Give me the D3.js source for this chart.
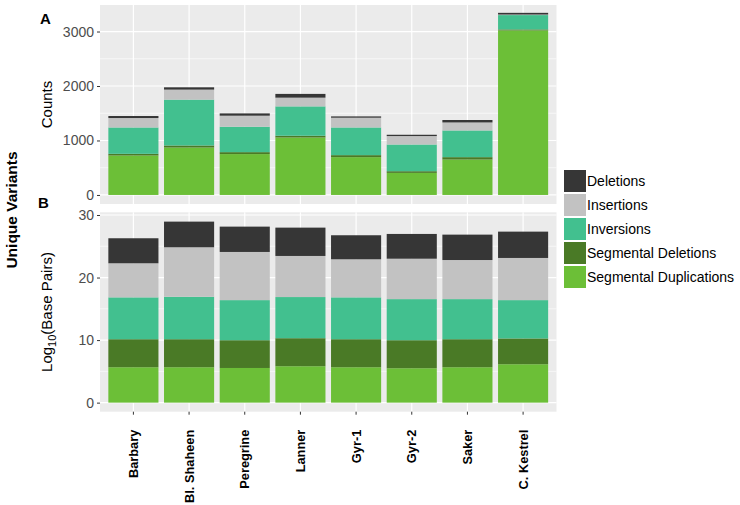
<!DOCTYPE html>
<html><head><meta charset="utf-8">
<script src="https://cdn.jsdelivr.net/npm/d3@7"></script>
<style>body{margin:0;background:#fff}text{font-family:"Liberation Sans",Arial,sans-serif}</style>
</head><body><svg id="c" width="740" height="505"></svg>
<script>
const categories = ["Barbary","Bl. Shaheen","Peregrine","Lanner","Gyr-1","Gyr-2","Saker","C. Kestrel"];
const seriesNames = ["Segmental Duplications","Segmental Deletions","Inversions","Insertions","Deletions"];
const legendOrder = ["Deletions","Insertions","Inversions","Segmental Deletions","Segmental Duplications"];
// Panel A: counts
const countsSegDup = [724, 871, 750, 1055, 694, 405, 650, 3020];
const countsSegDel = [31, 37, 36, 32, 37, 31, 44, 19];
const countsInv    = [484, 842, 466, 539, 508, 490, 490, 263];
const countsIns    = [173, 184, 203, 160, 179, 155, 147, 10];
const countsDel    = [37, 42, 42, 69, 24, 24, 45, 31];
// Panel B: log10(base pairs)
const bpSegDup = [5.66, 5.66, 5.54, 5.82, 5.66, 5.50, 5.66, 6.14];
const bpSegDel = [4.48, 4.48, 4.44, 4.48, 4.48, 4.48, 4.48, 4.12];
const bpInv    = [6.69, 6.78, 6.41, 6.58, 6.69, 6.57, 6.41, 6.13];
const bpIns    = [5.45, 7.92, 7.70, 6.57, 6.09, 6.46, 6.25, 6.74];
const bpDel    = [4.00, 4.10, 4.05, 4.53, 3.84, 3.96, 4.06, 4.21];
const ticksA = [0, 1000, 2000, 3000];
const minorA = [500, 1500, 2500];
const ticksB = [0, 10, 20, 30];
const minorB = [5, 15, 25];
const colors = {"Deletions":"#363636","Insertions":"#c2c2c2","Inversions":"#42c08f","Segmental Deletions":"#4a7a26","Segmental Duplications":"#6cbf37"};

const svg = d3.select("#c");
const x = d3.scaleBand().domain(categories).range([100, 556.5]).paddingInner(0.1).paddingOuter(0.15);

function rows(arrs){
  return categories.map((c,i)=>{const o={cat:c}; seriesNames.forEach((s,k)=>o[s]=arrs[k][i]); return o;});
}
function panel(data, y, ticks, minor, top, bottom){
  const g = svg.append("g");
  g.append("rect").attr("x",100).attr("y",top).attr("width",456.5).attr("height",bottom-top).attr("fill","#ebebeb");
  g.selectAll(".mn").data(minor).enter().append("line").attr("x1",100).attr("x2",556.5)
    .attr("y1",d=>y(d)).attr("y2",d=>y(d)).attr("stroke","#fff").attr("stroke-width",0.6);
  g.selectAll(".mj").data(ticks).enter().append("line").attr("x1",100).attr("x2",556.5)
    .attr("y1",d=>y(d)).attr("y2",d=>y(d)).attr("stroke","#fff").attr("stroke-width",1.2);
  g.selectAll(".vx").data(categories).enter().append("line").attr("y1",top).attr("y2",bottom)
    .attr("x1",d=>x(d)+x.bandwidth()/2).attr("x2",d=>x(d)+x.bandwidth()/2).attr("stroke","#fff").attr("stroke-width",1.2);
  const stack = d3.stack().keys(seriesNames)(data);
  g.selectAll(".s").data(stack).enter().append("g").attr("fill",d=>colors[d.key])
    .selectAll("rect").data(d=>d).enter().append("rect")
    .attr("x",d=>x(d.data.cat)).attr("width",x.bandwidth())
    .attr("y",d=>y(d[1])).attr("height",d=>y(d[0])-y(d[1]));
  const ax = g.append("g").attr("transform","translate(100,0)")
    .call(d3.axisLeft(y).tickValues(ticks).tickFormat(d3.format("d")).tickSize(3).tickPadding(3));
  ax.select(".domain").remove();
  ax.selectAll("line").attr("stroke","#333");
  ax.selectAll("text").attr("fill","#4d4d4d").style("font-size","14px");
}
const yA = d3.scaleLinear().domain([-166, 3487]).range([204, 5]);
const yB = d3.scaleLinear().domain([-1.45, 30.43]).range([411.7, 212.3]);
panel(rows([countsSegDup,countsSegDel,countsInv,countsIns,countsDel]), yA, ticksA, minorA, 5, 204);
panel(rows([bpSegDup,bpSegDel,bpInv,bpIns,bpDel]), yB, ticksB, minorB, 212.3, 411.7);

// x axis
const xa = svg.append("g").attr("transform","translate(0,411.7)").call(d3.axisBottom(x).tickSize(3).tickPadding(0));
xa.select(".domain").remove();
xa.selectAll("line").attr("stroke","#333");
xa.selectAll("text").attr("transform","rotate(-90)").attr("text-anchor","end").attr("dy","0.35em")
  .attr("x",-18).attr("y",0).attr("fill","#000").style("font-size","12.8px").style("font-weight","bold");

// labels
svg.append("text").attr("x",40).attr("y",24).text("A").style("font-size","15px").style("font-weight","bold");
svg.append("text").attr("x",38).attr("y",208).text("B").style("font-size","15px").style("font-weight","bold");
svg.append("text").attr("transform","translate(52,104.5) rotate(-90)").attr("text-anchor","middle").text("Counts").style("font-size","15px");
const lb = svg.append("text").attr("transform","translate(52,312) rotate(-90)").attr("text-anchor","middle").style("font-size","15px");
lb.append("tspan").text("Log");
lb.append("tspan").text("10").attr("dy","4").style("font-size","11px");
lb.append("tspan").text("(Base Pairs)").attr("dy","-4");
svg.append("text").attr("transform","translate(17,210) rotate(-90)").attr("text-anchor","middle").text("Unique Variants").style("font-size","15.5px").style("font-weight","bold");

// legend
const lg = svg.append("g");
legendOrder.forEach((k,i)=>{
  const yy = 170 + i*24;
  lg.append("rect").attr("x",564).attr("y",yy).attr("width",22).attr("height",22).attr("fill",colors[k]);
  lg.append("text").attr("x",587).attr("y",yy+11).attr("dy","0.35em").text(k).style("font-size","14px").attr("fill","#000");
});
</script></body></html>
